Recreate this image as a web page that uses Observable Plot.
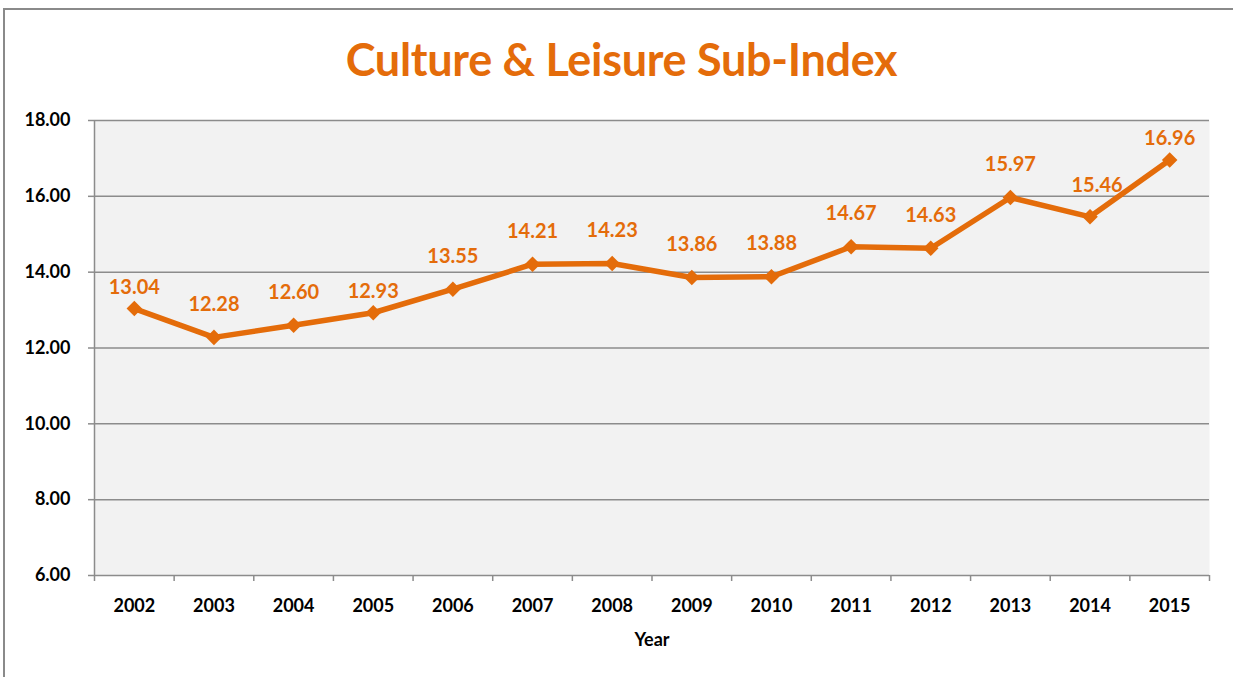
<!DOCTYPE html>
<html>
<head>
<meta charset="utf-8">
<script src="https://cdn.jsdelivr.net/npm/d3@7"></script>
<script src="https://cdn.jsdelivr.net/npm/@observablehq/plot@0.6"></script>
<style>
  html, body { margin: 0; padding: 0; background: #fff; }
  #wrap { position: relative; width: 1233px; height: 677px; overflow: hidden; background: #fff; }
  #border { position: absolute; left: 3px; top: 8px; width: 1400px; height: 900px; border: 2px solid #8a8a8a; box-sizing: border-box; }
  #title { position: absolute; left: 0; width: 1243px; top: 33px; text-align: center; font-family: Lato, sans-serif; font-weight: 700; font-size: 45px; color: #E46C0A; line-height: 52px; letter-spacing: -0.3px; }
  #chart { position: absolute; left: 0; top: 0; }
</style>
</head>
<body>
<div id="wrap">
  <div id="border"></div>
  <div id="chart"></div>
  <div id="title">Culture &amp; Leisure Sub-Index</div>
</div>
<script>
const years = [2002, 2003, 2004, 2005, 2006, 2007, 2008, 2009, 2010, 2011, 2012, 2013, 2014, 2015];
const values = [13.04, 12.28, 12.60, 12.93, 13.55, 14.21, 14.23, 13.86, 13.88, 14.67, 14.63, 15.97, 15.46, 16.96];
const yTicks = [6, 8, 10, 12, 14, 16, 18];
const xLabel = "Year";

// label placement (style only): labels closer to their point for these years, small shift for 2014
const closeLabels = new Set([2002, 2005, 2015]);
const shiftedLabels = new Set([2014]);

const data = years.map((y, i) => ({year: y, value: values[i]}));
const boundaries = d3.range(years[0] - 0.5, years[years.length - 1] + 1, 1);
const orange = "#E46C0A";
const grid = "#8c8c8c";
const labelStyle = {x: "year", y: "value", text: d => d.value.toFixed(2), fontSize: 20, fontWeight: 700, fill: orange};

const plot = Plot.plot({
  width: 1233,
  height: 677,
  marginLeft: 94,
  marginRight: 24,
  marginTop: 120,
  marginBottom: 102,
  style: {fontFamily: "Lato, sans-serif", background: "transparent", overflow: "visible"},
  x: {type: "linear", domain: [years[0] - 0.5, years[years.length - 1] + 0.5]},
  y: {type: "linear", domain: [6, 18]},
  marks: [
    Plot.frame({fill: "#f2f2f2", stroke: null}),
    Plot.ruleY(yTicks.slice(1), {stroke: grid, strokeWidth: 1.5}),
    Plot.ruleY([6], {stroke: grid, strokeWidth: 1.5}),
    Plot.ruleX([years[0] - 0.5], {stroke: grid, strokeWidth: 1.5}),
    Plot.axisY({ticks: yTicks, tickFormat: d => d.toFixed(2), tickSize: 6, tickPadding: 18,
      stroke: grid, strokeWidth: 1.5, strokeOpacity: 1, fontSize: 18, fontWeight: 700, fill: "#000", label: null}),
    Plot.axisX({ticks: boundaries, tickFormat: () => "", tickSize: 6, stroke: grid, strokeWidth: 1.5, strokeOpacity: 1, label: null}),
    Plot.axisX({ticks: years, tickFormat: d => String(d), tickSize: 0, tickPadding: 24, fontSize: 18, fontWeight: 700, fill: "#000", label: null}),
    Plot.text([xLabel], {frameAnchor: "bottom", dy: 70, fontSize: 18, fontWeight: 700, fill: "#000"}),
    Plot.line(data, {x: "year", y: "value", stroke: orange, strokeWidth: 5.5, strokeLinejoin: "round"}),
    Plot.dot(data, {x: "year", y: "value", symbol: "diamond2", r: 7, fill: orange, stroke: null}),
    Plot.text(data.filter(d => !closeLabels.has(d.year) && !shiftedLabels.has(d.year)), {...labelStyle, dy: -33}),
    Plot.text(data.filter(d => closeLabels.has(d.year)), {...labelStyle, dy: -21}),
    Plot.text(data.filter(d => shiftedLabels.has(d.year)), {...labelStyle, dy: -31, dx: 7})
  ]
});
document.getElementById("chart").appendChild(plot);
</script>
</body>
</html>
